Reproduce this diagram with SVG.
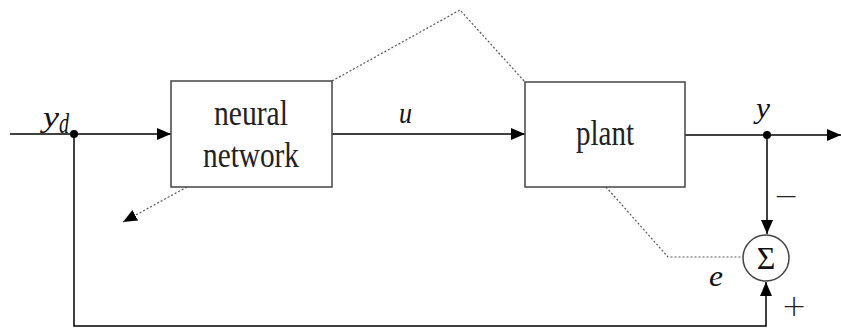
<svg xmlns="http://www.w3.org/2000/svg" width="841" height="328" viewBox="0 0 841 328">
<defs>
<style>
.box{fill:#fff;stroke:#444;stroke-width:1.5}
.ln{fill:none;stroke:#000;stroke-width:1.5}
.dash{fill:none;stroke:#555;stroke-width:1.2;stroke-dasharray:2 2}
.lbl{font-family:"Liberation Serif","Times New Roman",serif;font-size:36px;fill:#222}
.it{font-family:"Liberation Serif","Times New Roman",serif;font-style:italic;font-size:30px;fill:#111}
.sign{font-family:"Liberation Serif","Times New Roman",serif;font-size:32px;fill:#111}
.pm{font-family:"DejaVu Sans",sans-serif;font-size:30px;font-weight:200;fill:#222}
</style>
<marker id="ah" markerWidth="14" markerHeight="12" refX="14" refY="6" orient="auto" markerUnits="userSpaceOnUse">
<path d="M0,0 L14,6 L0,12 Z" fill="#000"/>
</marker>
</defs>
<rect width="841" height="328" fill="#fff"/>
<g id="connectors">
<line class="ln" x1="10" y1="134" x2="171" y2="134" marker-end="url(#ah)"/>
<line class="ln" x1="332" y1="134" x2="525" y2="134" marker-end="url(#ah)"/>
<line class="ln" x1="685" y1="135" x2="841" y2="135" marker-end="url(#ah)"/>
<line class="ln" x1="767" y1="135" x2="767" y2="234" marker-end="url(#ah)"/>
<polyline class="ln" points="74,134 74,326 766,326 766,282" marker-end="url(#ah)"/>
<polyline class="dash" points="332,81 460,10 525,82"/>
<polyline class="dash" points="606,187 668,257 743,257"/>
<line class="dash" x1="187" y1="187" x2="123" y2="222" marker-end="url(#ah)"/>
<circle cx="74" cy="134" r="4" fill="#000"/>
<circle cx="767" cy="135" r="4" fill="#000"/>
</g>
<g id="nn">
<rect class="box" x="171" y="81" width="161" height="106"/>
<text class="lbl" x="251" y="125" text-anchor="middle" textLength="74" lengthAdjust="spacingAndGlyphs">neural</text>
<text class="lbl" x="251" y="167" text-anchor="middle" textLength="96" lengthAdjust="spacingAndGlyphs">network</text>
</g>
<g id="plant">
<rect class="box" x="525" y="82" width="160" height="105"/>
<text class="lbl" x="605" y="145" text-anchor="middle" textLength="58" lengthAdjust="spacingAndGlyphs">plant</text>
</g>
<g id="sum">
<circle cx="766" cy="258" r="23" fill="#fff" stroke="#444" stroke-width="1.5"/>
<text class="sign" x="766" y="269" text-anchor="middle">Σ</text>
</g>
<g id="labels">
<text class="it" x="43" y="127" textLength="16" lengthAdjust="spacingAndGlyphs">y</text>
<text class="it" x="59" y="133" font-size="20" textLength="10" lengthAdjust="spacingAndGlyphs">d</text>
<text class="it" x="399" y="123" textLength="13" lengthAdjust="spacingAndGlyphs">u</text>
<text class="it" x="756" y="118" textLength="14" lengthAdjust="spacingAndGlyphs">y</text>
<text class="it" x="709" y="286" textLength="14" lengthAdjust="spacingAndGlyphs">e</text>
<text class="pm" x="786" y="206" text-anchor="middle">−</text>
<text class="pm" x="794" y="316" text-anchor="middle">+</text>
</g>
</svg>
